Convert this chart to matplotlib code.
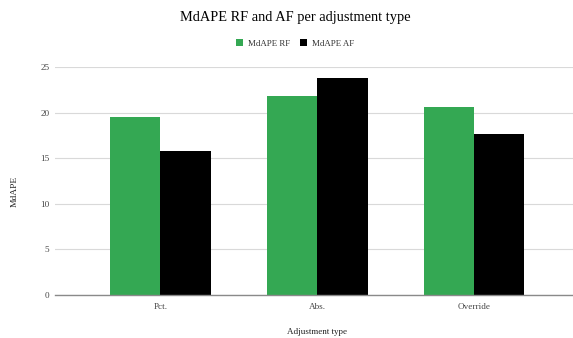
import numpy as np
import matplotlib
matplotlib.use("Agg")
import matplotlib.pyplot as plt

# Data
categories = ["Pct.", "Abs.", "Override"]
mdape_rf = [19.5, 21.8, 20.6]
mdape_af = [15.8, 23.8, 17.7]
yticks = [0, 5, 10, 15, 20, 25]

plt.rcParams["font.family"] = ["Liberation Serif", "DejaVu Serif"]

fig = plt.figure(figsize=(5.73, 3.38), dpi=100)
ax = fig.add_axes([55 / 573, 43 / 338, 524.5 / 573, 228 / 338])

x = np.arange(len(categories))
w = 0.322
ax.bar(x - w / 2, mdape_rf, w, color="#34a853", label="MdAPE RF", zorder=3)
ax.bar(x + w / 2, mdape_af, w, color="#000000", label="MdAPE AF", zorder=3)

ax.set_xlim(-0.673, 2.673)
ax.set_ylim(0, 25)
ax.set_yticks(yticks)
ax.set_xticks(x)
ax.set_xticklabels(categories)
ax.grid(axis="y", color="#d9d9d9", linewidth=0.8, zorder=0)
for s in ["top", "right", "left"]:
    ax.spines[s].set_visible(False)
ax.spines["bottom"].set_color("#8a8a8a")
ax.spines["bottom"].set_linewidth(1.0)
ax.spines["bottom"].set_zorder(4)
ax.tick_params(axis="both", length=0, labelsize=6.6, labelcolor="#444444")
ax.tick_params(axis="y", pad=4)
ax.tick_params(axis="x", pad=5.5)

# axis titles placed in axes coordinates
ax.set_ylabel("MdAPE", fontsize=6.8, color="#222222", va="center")
ax.yaxis.set_label_coords(-0.0763, 0.453)
ax.set_xlabel("Adjustment type", fontsize=6.5, color="#222222", va="center")
ax.xaxis.set_label_coords(0.5, -0.1636)

fig.text(295 / 573, 1 - 18 / 338, "MdAPE RF and AF per adjustment type",
         ha="center", va="center", fontsize=10.4, color="#000000")
fig.legend(loc="center", bbox_to_anchor=(295 / 573, 1 - 43.5 / 338), ncol=2, frameon=False,
           fontsize=6.4, handlelength=0.8, handleheight=0.8, handletextpad=0.55,
           columnspacing=1.1, labelcolor="#333333")

fig.savefig("out.png", dpi=100, facecolor="white")
